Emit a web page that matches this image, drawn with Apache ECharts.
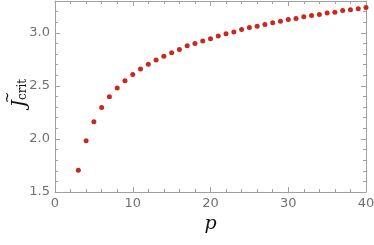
<!DOCTYPE html>
<html><head><meta charset="utf-8">
<script src="https://cdn.jsdelivr.net/npm/echarts@6/dist/echarts.min.js"></script>
<style>html,body{margin:0;padding:0;background:#fff}#c{width:374px;height:245px}</style>
</head><body><div id="c"></div>
<script>
const pValues = [3,4,5,6,7,8,9,10,11,12,13,14,15,16,17,18,19,20,21,22,23,24,25,26,27,28,29,30,31,32,33,34,35,36,37,38,39,40];
const jCrit = [1.704,1.983,2.162,2.297,2.397,2.479,2.548,2.608,2.658,2.705,2.743,2.780,2.812,2.843,2.878,2.900,2.922,2.944,2.969,2.991,3.009,3.031,3.050,3.063,3.078,3.094,3.110,3.126,3.135,3.151,3.163,3.173,3.188,3.195,3.210,3.217,3.226,3.238];
const xTicks = [0,10,20,30,40];
const yTicks = [1.5,2.0,2.5,3.0];

const frame = '#a0a0a0';
const lab = '#707070';
const chart = echarts.init(document.getElementById('c'), null, {renderer:'canvas'});
function axBase(show){
  return {
    axisLine:{show:true, onZero:false, lineStyle:{color:frame, width:1}},
    axisTick:{show:true, inside:true, length:5, lineStyle:{color:frame}},
    minorTick:{show:true, splitNumber:5, length:3, lineStyle:{color:frame}},
    splitLine:{show:false},
    axisLabel:{show:show, color:lab, fontFamily:'DejaVu Sans', fontSize:13, margin:5}
  };
}
chart.setOption({
  animation:false,
  grid:{left:55, right:8, top:1, bottom:53, containLabel:false, outerBoundsMode:'none'},
  graphic:[{
    type:'text', x:17, y:93, rotation:Math.PI/2,
    style:{
      text:'{t|~}\n{j|J}{s|crit}',
      align:'center', verticalAlign:'middle',
      rich:{
        t:{fontFamily:'DejaVu Serif', fontSize:14, fill:'#111', lineHeight:6, align:'left', padding:[0,0,0,4]},
        j:{fontFamily:'DejaVu Serif', fontStyle:'italic', fontSize:18, fill:'#111', lineHeight:18},
        s:{fontFamily:'DejaVu Serif', fontSize:12, fill:'#111', verticalAlign:'bottom', lineHeight:18, padding:[5,0,0,0]}
      }
    }
  }],
  xAxis:[
    Object.assign(axBase(true), {type:'value', min:0, max:40, interval:10, position:'bottom',
      name:'p', nameLocation:'middle', nameGap:19,
      nameTextStyle:{fontFamily:'DejaVu Serif', fontStyle:'italic', fontSize:19, color:'#111'},
      axisLabel:{show:true, color:lab, fontFamily:'DejaVu Sans', fontSize:13, margin:5,
        formatter:v=> xTicks.includes(v)? String(v):''}}),
    Object.assign(axBase(false), {type:'value', min:0, max:40, interval:10, position:'top'})
  ],
  yAxis:[
    Object.assign(axBase(true), {type:'value', min:1.5, max:3.3, interval:0.5, position:'left',
      axisLabel:{show:true, color:lab, fontFamily:'DejaVu Sans', fontSize:13, margin:5,
        formatter:v=> yTicks.some(t=>Math.abs(t-v)<1e-9)? v.toFixed(1):''}}),
    Object.assign(axBase(false), {type:'value', min:1.5, max:3.3, interval:0.5, position:'right'})
  ],
  series:[{
    type:'scatter', xAxisIndex:0, yAxisIndex:0,
    data:pValues.map((p,i)=>[p,jCrit[i]]),
    symbol:'circle', symbolSize:5,
    itemStyle:{color:'#c9281d', opacity:1}
  }]
});
</script></body></html>
